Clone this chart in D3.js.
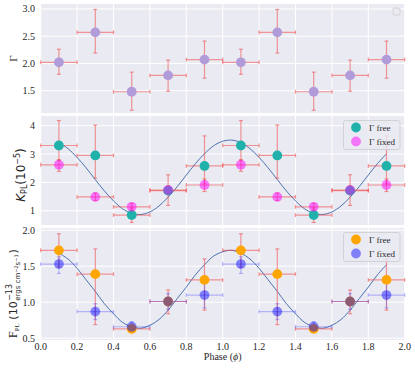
<!DOCTYPE html>
<html>
<head>
<meta charset="utf-8">
<script src="https://cdn.jsdelivr.net/npm/d3@7"></script>
<style>
  body { margin: 0; background: #fff; }
  svg { display: block; }
</style>
</head>
<body>
<div class="chart"></div>
<script>
// phase bins (folded light curve, shown twice)
var phase = [0.1, 0.3, 0.5, 0.7, 0.9]
var phaseHalfWidth = 0.1

// photon index
var gamma = [2.02, 2.57, 1.48, 1.78, 2.07]
var gammaLo = [1.80, 2.19, 1.14, 1.49, 1.73]
var gammaHi = [2.26, 2.99, 1.84, 2.06, 2.41]

// power-law normalisation (1e-5)
var kFree = [3.30, 2.95, 0.85, 1.71, 2.58]
var kFreeLo = [2.78, 2.15, 0.59, 1.19, 1.95]
var kFreeHi = [4.18, 4.02, 1.10, 2.27, 3.64]
var kFixed = [2.62, 1.49, 1.14, 1.73, 1.91]
var kFixedLo = [2.39, 1.36, 1.02, 1.58, 1.68]
var kFixedHi = [2.80, 1.62, 1.26, 1.88, 2.12]

// power-law flux (1e-13 ergs cm-2 s-1)
var fFree = [1.72, 1.39, 0.63, 1.01, 1.31]
var fFreeLo = [1.49, 0.69, 0.58, 0.84, 0.89]
var fFreeHi = [1.95, 1.74, 0.68, 1.17, 1.60]
var fFixed = [1.53, 0.87, 0.66, 1.01, 1.10]
var fFixedLo = [1.40, 0.76, 0.60, 0.90, 0.92]
var fFixedHi = [1.63, 0.98, 0.73, 1.12, 1.28]

var fitPhase0 = 0.1, fitStep = 0.05
var kFit = [3.40, 3.19, 2.88, 2.51, 2.10, 1.70, 1.35, 1.07, 0.91, 0.87, 0.96, 1.17, 1.48, 1.85, 2.26, 2.66, 3.01, 3.29, 3.45, 3.49,
            3.40, 3.19, 2.88, 2.51, 2.10, 1.70, 1.35, 1.07, 0.91, 0.87, 0.96, 1.17, 1.48, 1.85, 2.26, 2.66, 3.01]
var fFit = [1.68, 1.60, 1.47, 1.31, 1.15, 0.98, 0.84, 0.72, 0.66, 0.64, 0.68, 0.76, 0.89, 1.05, 1.21, 1.38, 1.52, 1.64, 1.70, 1.72,
            1.68, 1.60, 1.47, 1.31, 1.15, 0.98, 0.84, 0.72, 0.66, 0.64, 0.68, 0.76, 0.89, 1.05, 1.21, 1.38, 1.52]

var xTicks = [0, 0.2, 0.4, 0.6, 0.8, 1.0, 1.2, 1.4, 1.6, 1.8, 2.0]

var width = 415, height = 371
var svg = d3.select(".chart").append("svg")
  .attr("width", width)
  .attr("height", height)

var x = d3.scaleLinear().domain([0, 2]).range([40.7, 404.7])

var panels = [
  {top: 4, bottom: 113, domain: [1.09, 3.09], ticks: [1.5, 2.0, 2.5, 3.0], fmt: d3.format(".1f")},
  {top: 116, bottom: 225, domain: [0.5, 4.34], ticks: [1, 2, 3, 4], fmt: d3.format("d")},
  {top: 228, bottom: 340, domain: [0.476, 2.03], ticks: [0.5, 1.0, 1.5, 2.0], fmt: d3.format(".1f")}
]

// fold twice: repeat every bin at phase + 1
function series(vals, lo, hi) {
  var out = []
  ;[0, 1].forEach(function (cycle) {
    vals.forEach(function (v, i) {
      out.push({p: phase[i] + cycle, v: v, lo: lo[i], hi: hi[i]})
    })
  })
  return out
}

panels.forEach(function (p) {
  p.y = d3.scaleLinear().domain(p.domain).range([p.bottom, p.top])
  var g = svg.append("g")
  g.append("rect")
    .attr("x", x.range()[0]).attr("y", p.top)
    .attr("width", x.range()[1] - x.range()[0]).attr("height", p.bottom - p.top)
    .attr("fill", "#eaeaf2")
  g.selectAll(".gx").data(xTicks).enter().append("line")
    .attr("x1", function (d) { return x(d) }).attr("x2", function (d) { return x(d) })
    .attr("y1", p.top).attr("y2", p.bottom)
    .attr("stroke", "#fff").attr("stroke-width", 1)
  g.selectAll(".gy").data(p.ticks).enter().append("line")
    .attr("x1", x.range()[0]).attr("x2", x.range()[1])
    .attr("y1", function (d) { return p.y(d) }).attr("y2", function (d) { return p.y(d) })
    .attr("stroke", "#fff").attr("stroke-width", 1)
  g.selectAll(".ty").data(p.ticks).enter().append("text")
    .attr("x", 35).attr("y", function (d) { return p.y(d) })
    .attr("dy", "0.35em")
    .attr("text-anchor", "end")
    .style("font", "10px 'Liberation Serif', serif")
    .attr("fill", "#262626")
    .text(p.fmt)
  p.g = g
})

// x tick labels only under the bottom panel
svg.selectAll(".tx").data(xTicks).enter().append("text")
  .attr("x", function (d) { return x(d) }).attr("y", 349.5)
  .attr("text-anchor", "middle")
  .style("font", "10px 'Liberation Serif', serif")
  .attr("fill", "#262626")
  .text(d3.format(".1f"))

var xl = svg.append("text")
  .attr("x", x(1)).attr("y", 359.5)
  .attr("text-anchor", "middle")
  .style("font", "10px 'Liberation Serif', serif")
  .attr("fill", "#262626")
xl.append("tspan").text("Phase (")
xl.append("tspan").style("font-style", "italic").text("\u03d5")
xl.append("tspan").text(")")

function drawErrors(p, data, color, opacity) {
  var cap = 2
  var g = p.g.append("g").attr("stroke", color).attr("stroke-opacity", opacity).attr("stroke-width", 1.2)
  data.forEach(function (d) {
    var cx = x(d.p), cy = p.y(d.v)
    var x0 = x(d.p - phaseHalfWidth), x1 = x(d.p + phaseHalfWidth)
    var y0 = p.y(d.lo), y1 = p.y(d.hi)
    g.append("line").attr("x1", x0).attr("x2", x1).attr("y1", cy).attr("y2", cy)
    g.append("line").attr("x1", cx).attr("x2", cx).attr("y1", y0).attr("y2", y1)
    g.append("line").attr("x1", x0).attr("x2", x0).attr("y1", cy - cap).attr("y2", cy + cap)
    g.append("line").attr("x1", x1).attr("x2", x1).attr("y1", cy - cap).attr("y2", cy + cap)
    g.append("line").attr("x1", cx - cap).attr("x2", cx + cap).attr("y1", y0).attr("y2", y0)
    g.append("line").attr("x1", cx - cap).attr("x2", cx + cap).attr("y1", y1).attr("y2", y1)
  })
}

function drawPoints(p, data, color, opacity) {
  p.g.append("g").selectAll("circle").data(data).enter().append("circle")
    .attr("cx", function (d) { return x(d.p) })
    .attr("cy", function (d) { return p.y(d.v) })
    .attr("r", 4.9)
    .attr("fill", color)
    .attr("fill-opacity", opacity)
}

function drawFit(p, vals) {
  var line = d3.line()
    .curve(d3.curveCatmullRom)
    .x(function (d, i) { return x(fitPhase0 + i * fitStep) })
    .y(function (d) { return p.y(d) })
  p.g.append("path")
    .attr("d", line(vals))
    .attr("fill", "none")
    .attr("stroke", "#4c72b0")
    .attr("stroke-width", 1)
}

function drawLegend(p, items) {
  var lx = 343.5, ly = p.top + 4.5
  var lg = p.g.append("g")
  lg.append("rect")
    .attr("x", lx).attr("y", ly).attr("width", 56.5).attr("height", 29)
    .attr("rx", 2)
    .attr("fill", "#eaeaf2").attr("fill-opacity", 0.8)
    .attr("stroke", "#cccccc").attr("stroke-width", 0.8)
  items.forEach(function (it, i) {
    var yy = ly + 7 + i * 14
    lg.append("circle").attr("cx", lx + 12.5).attr("cy", yy).attr("r", 4.9)
      .attr("fill", it.color).attr("fill-opacity", it.opacity)
    lg.append("text").attr("x", lx + 25.5).attr("y", yy).attr("dy", "0.35em")
      .style("font", "9px 'Liberation Serif', serif")
      .attr("fill", "#262626")
      .text(it.label)
  })
}

// panel 1: Gamma
var gData = series(gamma, gammaLo, gammaHi)
drawErrors(panels[0], gData, "#f04848", 0.55)
drawPoints(panels[0], gData, "#b19cd9", 1)
panels[0].g.append("rect")
  .attr("x", 393).attr("y", 8).attr("width", 7).attr("height", 7).attr("rx", 1.2)
  .attr("fill", "#eaeaf2").attr("stroke", "#cccccc").attr("stroke-width", 0.8)

// panel 2: normalisation
var kf = series(kFree, kFreeLo, kFreeHi)
var kx = series(kFixed, kFixedLo, kFixedHi)
drawFit(panels[1], kFit)
drawErrors(panels[1], kf, "#f04848", 0.55)
drawErrors(panels[1], kx, "#f04848", 0.55)
drawPoints(panels[1], kf, "#20b2aa", 1)
drawPoints(panels[1], kx, "#ff00ff", 0.5)
drawLegend(panels[1], [
  {label: "\u0393 free", color: "#20b2aa", opacity: 1},
  {label: "\u0393 fixed", color: "#ff00ff", opacity: 0.5}
])

// panel 3: flux
var ff = series(fFree, fFreeLo, fFreeHi)
var fx = series(fFixed, fFixedLo, fFixedHi)
drawFit(panels[2], fFit)
drawErrors(panels[2], ff, "#f04848", 0.55)
drawErrors(panels[2], fx, "#3030ff", 0.3)
drawPoints(panels[2], ff, "#ffa500", 1)
drawPoints(panels[2], fx, "#0000ff", 0.45)
drawLegend(panels[2], [
  {label: "\u0393 free", color: "#ffa500", opacity: 1},
  {label: "\u0393 fixed", color: "#0000ff", opacity: 0.45}
])

// y labels
svg.append("text")
  .attr("transform", "translate(17," + d3.mean(panels[0].y.range()) + ") rotate(-90)")
  .attr("text-anchor", "middle")
  .style("font", "11px 'Liberation Serif', serif")
  .attr("fill", "#262626")
  .text("\u0393")

var kl = svg.append("text")
  .attr("transform", "translate(25,175) rotate(-90)")
  .attr("text-anchor", "middle")
  .style("font", "12px 'DejaVu Sans', sans-serif")
  .attr("fill", "#262626")
kl.append("tspan").style("font-style", "italic").text("K")
kl.append("tspan").attr("dy", 2).style("font-size", "8px").text("PL")
kl.append("tspan").attr("dy", -2).text("(10")
kl.append("tspan").attr("dy", -5).style("font-size", "8px").text("\u22125")
kl.append("tspan").attr("dy", 5).text(")")

// flux label: F_PL (10^-13 with stacked units subscript)
var fl = svg.append("g").attr("transform", "translate(17,338) rotate(-90)")
var f1 = fl.append("text").attr("x", 0).attr("y", 0)
  .style("font", "11px 'DejaVu Sans', sans-serif").attr("fill", "#262626")
f1.append("tspan").style("font-family", "'Liberation Serif', serif").style("font-size", "12px").text("F")
f1.append("tspan").attr("dy", 2).style("font-family", "'Liberation Serif', serif").style("font-size", "7px").text("PL")
f1.append("tspan").attr("dy", -2).text(" (10")
var w1 = f1.node().getComputedTextLength()
var f2 = fl.append("text").attr("x", w1 + 0.5).attr("y", -5.5)
  .style("font", "8px 'DejaVu Sans', sans-serif").attr("fill", "#262626")
  .text("\u221213")
var f3 = fl.append("text").attr("x", w1 + 0.5).attr("y", 3)
  .style("font", "7px 'DejaVu Sans', sans-serif").attr("fill", "#262626")
f3.append("tspan").text("ergs cm")
f3.append("tspan").attr("dy", -2.5).style("font-size", "5px").text("\u22122")
f3.append("tspan").attr("dy", 2.5).text("s")
f3.append("tspan").attr("dy", -2.5).style("font-size", "5px").text("\u22121")
var w3 = f3.node().getComputedTextLength()
fl.append("text").attr("x", w1 + 0.5 + Math.max(w3, f2.node().getComputedTextLength()) + 1).attr("y", 0)
  .style("font", "11px 'DejaVu Sans', sans-serif").attr("fill", "#262626")
  .text(")")
</script>
</body>
</html>
